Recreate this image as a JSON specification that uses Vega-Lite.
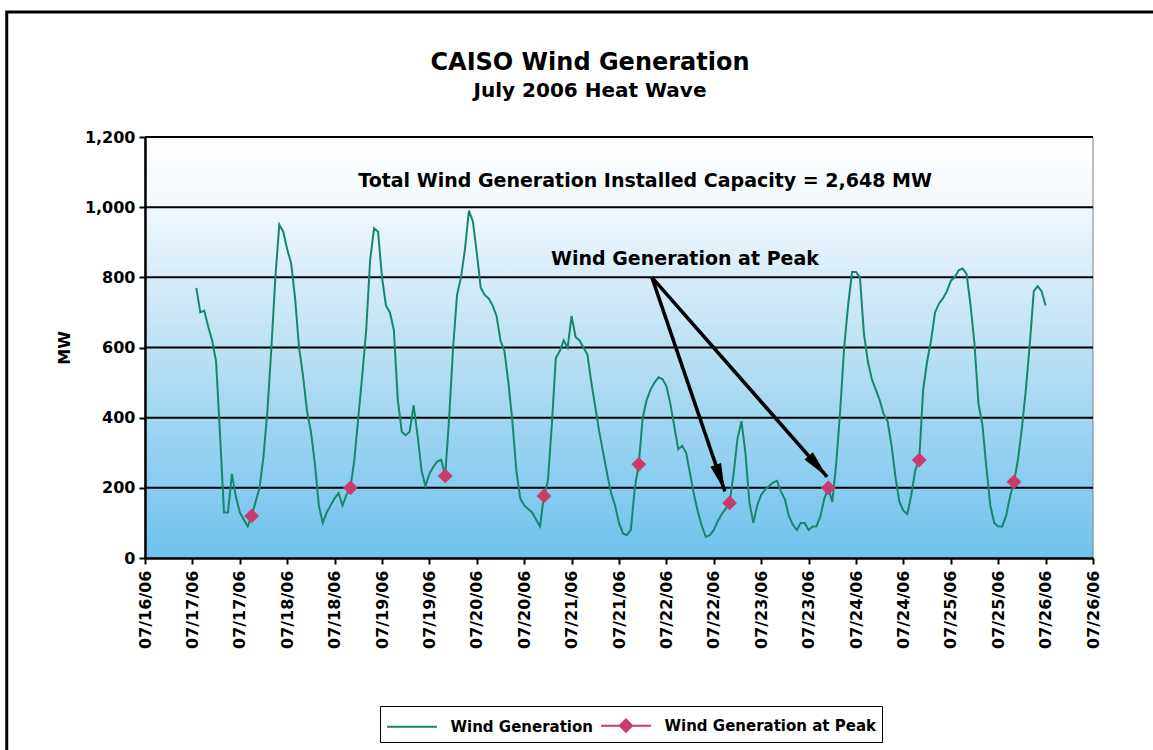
{
  "$schema": "https://vega.github.io/schema/vega-lite/v6.json",
  "width": 948,
  "height": 421,
  "autosize": {"type": "none"},
  "padding": {"left": 145, "top": 137, "right": 60, "bottom": 192},
  "background": "white",
  "title": {
    "text": "CAISO Wind Generation",
    "subtitle": "July 2006 Heat Wave",
    "anchor": "middle",
    "frame": "group",
    "dx": -29,
    "dy": 90,
    "offset": 0,
    "font": "DejaVu Sans",
    "fontSize": 24,
    "fontWeight": "bold",
    "color": "black",
    "subtitleFont": "DejaVu Sans",
    "subtitleFontSize": 20,
    "subtitleFontWeight": "bold",
    "subtitleColor": "black",
    "subtitlePadding": 6
  },
  "view": {"stroke": null},
  "datasets": {
    "plotbg": [
      {"t": "2006-07-16T12:00", "t2": "2006-07-26T12:00", "mw": 1200, "mw2": 0}
    ],
    "frame": [
      {"t": "2006-07-15T01:00", "t2": "2006-07-29T00:00", "mw": 1556, "mw2": -900}
    ],
    "gridlines": [
      {"mw": 200}, {"mw": 400}, {"mw": 600}, {"mw": 800}, {"mw": 1000}, {"mw": 1200}
    ],
    "series": [
      {"t": "2006-07-17T01:00", "mw": 770}, {"t": "2006-07-17T02:00", "mw": 700}, {"t": "2006-07-17T03:00", "mw": 705}, {"t": "2006-07-17T04:00", "mw": 660},
      {"t": "2006-07-17T05:00", "mw": 620}, {"t": "2006-07-17T06:00", "mw": 560}, {"t": "2006-07-17T07:00", "mw": 350}, {"t": "2006-07-17T08:00", "mw": 130},
      {"t": "2006-07-17T09:00", "mw": 130}, {"t": "2006-07-17T10:00", "mw": 240}, {"t": "2006-07-17T11:00", "mw": 175}, {"t": "2006-07-17T12:00", "mw": 130},
      {"t": "2006-07-17T13:00", "mw": 110}, {"t": "2006-07-17T14:00", "mw": 90}, {"t": "2006-07-17T15:00", "mw": 120}, {"t": "2006-07-17T16:00", "mw": 160},
      {"t": "2006-07-17T17:00", "mw": 200}, {"t": "2006-07-17T18:00", "mw": 290}, {"t": "2006-07-17T19:00", "mw": 420}, {"t": "2006-07-17T20:00", "mw": 600},
      {"t": "2006-07-17T21:00", "mw": 800}, {"t": "2006-07-17T22:00", "mw": 950}, {"t": "2006-07-17T23:00", "mw": 930}, {"t": "2006-07-18T00:00", "mw": 880},
      {"t": "2006-07-18T01:00", "mw": 840}, {"t": "2006-07-18T02:00", "mw": 740}, {"t": "2006-07-18T03:00", "mw": 600}, {"t": "2006-07-18T04:00", "mw": 520},
      {"t": "2006-07-18T05:00", "mw": 420}, {"t": "2006-07-18T06:00", "mw": 360}, {"t": "2006-07-18T07:00", "mw": 270}, {"t": "2006-07-18T08:00", "mw": 150},
      {"t": "2006-07-18T09:00", "mw": 100}, {"t": "2006-07-18T10:00", "mw": 130}, {"t": "2006-07-18T11:00", "mw": 150}, {"t": "2006-07-18T12:00", "mw": 170},
      {"t": "2006-07-18T13:00", "mw": 185}, {"t": "2006-07-18T14:00", "mw": 150}, {"t": "2006-07-18T15:00", "mw": 180}, {"t": "2006-07-18T16:00", "mw": 200},
      {"t": "2006-07-18T17:00", "mw": 280}, {"t": "2006-07-18T18:00", "mw": 400}, {"t": "2006-07-18T19:00", "mw": 520}, {"t": "2006-07-18T20:00", "mw": 650},
      {"t": "2006-07-18T21:00", "mw": 850}, {"t": "2006-07-18T22:00", "mw": 940}, {"t": "2006-07-18T23:00", "mw": 930}, {"t": "2006-07-19T00:00", "mw": 800},
      {"t": "2006-07-19T01:00", "mw": 720}, {"t": "2006-07-19T02:00", "mw": 700}, {"t": "2006-07-19T03:00", "mw": 650}, {"t": "2006-07-19T04:00", "mw": 450},
      {"t": "2006-07-19T05:00", "mw": 360}, {"t": "2006-07-19T06:00", "mw": 350}, {"t": "2006-07-19T07:00", "mw": 360}, {"t": "2006-07-19T08:00", "mw": 435},
      {"t": "2006-07-19T09:00", "mw": 350}, {"t": "2006-07-19T10:00", "mw": 250}, {"t": "2006-07-19T11:00", "mw": 205}, {"t": "2006-07-19T12:00", "mw": 240},
      {"t": "2006-07-19T13:00", "mw": 260}, {"t": "2006-07-19T14:00", "mw": 275}, {"t": "2006-07-19T15:00", "mw": 280}, {"t": "2006-07-19T16:00", "mw": 234},
      {"t": "2006-07-19T17:00", "mw": 400}, {"t": "2006-07-19T18:00", "mw": 600}, {"t": "2006-07-19T19:00", "mw": 750}, {"t": "2006-07-19T20:00", "mw": 800},
      {"t": "2006-07-19T21:00", "mw": 880}, {"t": "2006-07-19T22:00", "mw": 990}, {"t": "2006-07-19T23:00", "mw": 960}, {"t": "2006-07-20T00:00", "mw": 870},
      {"t": "2006-07-20T01:00", "mw": 770}, {"t": "2006-07-20T02:00", "mw": 750}, {"t": "2006-07-20T03:00", "mw": 740}, {"t": "2006-07-20T04:00", "mw": 720},
      {"t": "2006-07-20T05:00", "mw": 690}, {"t": "2006-07-20T06:00", "mw": 620}, {"t": "2006-07-20T07:00", "mw": 590}, {"t": "2006-07-20T08:00", "mw": 500},
      {"t": "2006-07-20T09:00", "mw": 390}, {"t": "2006-07-20T10:00", "mw": 250}, {"t": "2006-07-20T11:00", "mw": 170}, {"t": "2006-07-20T12:00", "mw": 150},
      {"t": "2006-07-20T13:00", "mw": 140}, {"t": "2006-07-20T14:00", "mw": 130}, {"t": "2006-07-20T15:00", "mw": 110}, {"t": "2006-07-20T16:00", "mw": 90},
      {"t": "2006-07-20T17:00", "mw": 177}, {"t": "2006-07-20T18:00", "mw": 220}, {"t": "2006-07-20T19:00", "mw": 380}, {"t": "2006-07-20T20:00", "mw": 570},
      {"t": "2006-07-20T21:00", "mw": 590}, {"t": "2006-07-20T22:00", "mw": 620}, {"t": "2006-07-20T23:00", "mw": 600}, {"t": "2006-07-21T00:00", "mw": 690},
      {"t": "2006-07-21T01:00", "mw": 630}, {"t": "2006-07-21T02:00", "mw": 620}, {"t": "2006-07-21T03:00", "mw": 600}, {"t": "2006-07-21T04:00", "mw": 580},
      {"t": "2006-07-21T05:00", "mw": 500}, {"t": "2006-07-21T06:00", "mw": 430}, {"t": "2006-07-21T07:00", "mw": 360}, {"t": "2006-07-21T08:00", "mw": 300},
      {"t": "2006-07-21T09:00", "mw": 240}, {"t": "2006-07-21T10:00", "mw": 185}, {"t": "2006-07-21T11:00", "mw": 150}, {"t": "2006-07-21T12:00", "mw": 100},
      {"t": "2006-07-21T13:00", "mw": 70}, {"t": "2006-07-21T14:00", "mw": 65}, {"t": "2006-07-21T15:00", "mw": 80}, {"t": "2006-07-21T16:00", "mw": 200},
      {"t": "2006-07-21T17:00", "mw": 267}, {"t": "2006-07-21T18:00", "mw": 400}, {"t": "2006-07-21T19:00", "mw": 450}, {"t": "2006-07-21T20:00", "mw": 480},
      {"t": "2006-07-21T21:00", "mw": 500}, {"t": "2006-07-21T22:00", "mw": 515}, {"t": "2006-07-21T23:00", "mw": 510}, {"t": "2006-07-22T00:00", "mw": 490},
      {"t": "2006-07-22T01:00", "mw": 440}, {"t": "2006-07-22T02:00", "mw": 375}, {"t": "2006-07-22T03:00", "mw": 310}, {"t": "2006-07-22T04:00", "mw": 320},
      {"t": "2006-07-22T05:00", "mw": 300}, {"t": "2006-07-22T06:00", "mw": 240}, {"t": "2006-07-22T07:00", "mw": 180}, {"t": "2006-07-22T08:00", "mw": 130},
      {"t": "2006-07-22T09:00", "mw": 90}, {"t": "2006-07-22T10:00", "mw": 60}, {"t": "2006-07-22T11:00", "mw": 65}, {"t": "2006-07-22T12:00", "mw": 80},
      {"t": "2006-07-22T13:00", "mw": 105}, {"t": "2006-07-22T14:00", "mw": 125}, {"t": "2006-07-22T15:00", "mw": 140}, {"t": "2006-07-22T16:00", "mw": 157},
      {"t": "2006-07-22T17:00", "mw": 240}, {"t": "2006-07-22T18:00", "mw": 340}, {"t": "2006-07-22T19:00", "mw": 390}, {"t": "2006-07-22T20:00", "mw": 300},
      {"t": "2006-07-22T21:00", "mw": 160}, {"t": "2006-07-22T22:00", "mw": 100}, {"t": "2006-07-22T23:00", "mw": 150}, {"t": "2006-07-23T00:00", "mw": 180},
      {"t": "2006-07-23T01:00", "mw": 195}, {"t": "2006-07-23T02:00", "mw": 205}, {"t": "2006-07-23T03:00", "mw": 215}, {"t": "2006-07-23T04:00", "mw": 220},
      {"t": "2006-07-23T05:00", "mw": 190}, {"t": "2006-07-23T06:00", "mw": 167}, {"t": "2006-07-23T07:00", "mw": 120}, {"t": "2006-07-23T08:00", "mw": 95},
      {"t": "2006-07-23T09:00", "mw": 80}, {"t": "2006-07-23T10:00", "mw": 100}, {"t": "2006-07-23T11:00", "mw": 100}, {"t": "2006-07-23T12:00", "mw": 80},
      {"t": "2006-07-23T13:00", "mw": 90}, {"t": "2006-07-23T14:00", "mw": 90}, {"t": "2006-07-23T15:00", "mw": 120}, {"t": "2006-07-23T16:00", "mw": 170},
      {"t": "2006-07-23T17:00", "mw": 200}, {"t": "2006-07-23T18:00", "mw": 160}, {"t": "2006-07-23T19:00", "mw": 270}, {"t": "2006-07-23T20:00", "mw": 420},
      {"t": "2006-07-23T21:00", "mw": 600}, {"t": "2006-07-23T22:00", "mw": 720}, {"t": "2006-07-23T23:00", "mw": 815}, {"t": "2006-07-24T00:00", "mw": 815},
      {"t": "2006-07-24T01:00", "mw": 800}, {"t": "2006-07-24T02:00", "mw": 640}, {"t": "2006-07-24T03:00", "mw": 560}, {"t": "2006-07-24T04:00", "mw": 510},
      {"t": "2006-07-24T05:00", "mw": 480}, {"t": "2006-07-24T06:00", "mw": 450}, {"t": "2006-07-24T07:00", "mw": 410}, {"t": "2006-07-24T08:00", "mw": 390},
      {"t": "2006-07-24T09:00", "mw": 320}, {"t": "2006-07-24T10:00", "mw": 230}, {"t": "2006-07-24T11:00", "mw": 160}, {"t": "2006-07-24T12:00", "mw": 135},
      {"t": "2006-07-24T13:00", "mw": 125}, {"t": "2006-07-24T14:00", "mw": 180}, {"t": "2006-07-24T15:00", "mw": 250}, {"t": "2006-07-24T16:00", "mw": 279},
      {"t": "2006-07-24T17:00", "mw": 480}, {"t": "2006-07-24T18:00", "mw": 560}, {"t": "2006-07-24T19:00", "mw": 620}, {"t": "2006-07-24T20:00", "mw": 700},
      {"t": "2006-07-24T21:00", "mw": 725}, {"t": "2006-07-24T22:00", "mw": 740}, {"t": "2006-07-24T23:00", "mw": 760}, {"t": "2006-07-25T00:00", "mw": 790},
      {"t": "2006-07-25T01:00", "mw": 800}, {"t": "2006-07-25T02:00", "mw": 820}, {"t": "2006-07-25T03:00", "mw": 825}, {"t": "2006-07-25T04:00", "mw": 810},
      {"t": "2006-07-25T05:00", "mw": 720}, {"t": "2006-07-25T06:00", "mw": 610}, {"t": "2006-07-25T07:00", "mw": 440}, {"t": "2006-07-25T08:00", "mw": 380},
      {"t": "2006-07-25T09:00", "mw": 260}, {"t": "2006-07-25T10:00", "mw": 150}, {"t": "2006-07-25T11:00", "mw": 100}, {"t": "2006-07-25T12:00", "mw": 90},
      {"t": "2006-07-25T13:00", "mw": 90}, {"t": "2006-07-25T14:00", "mw": 120}, {"t": "2006-07-25T15:00", "mw": 175}, {"t": "2006-07-25T16:00", "mw": 217},
      {"t": "2006-07-25T17:00", "mw": 280}, {"t": "2006-07-25T18:00", "mw": 370}, {"t": "2006-07-25T19:00", "mw": 480}, {"t": "2006-07-25T20:00", "mw": 610},
      {"t": "2006-07-25T21:00", "mw": 760}, {"t": "2006-07-25T22:00", "mw": 775}, {"t": "2006-07-25T23:00", "mw": 760}, {"t": "2006-07-26T00:00", "mw": 720}
    ],
    "peaks": [
      {"t": "2006-07-17T15:00", "mw": 120},
      {"t": "2006-07-18T16:00", "mw": 200},
      {"t": "2006-07-19T16:00", "mw": 234},
      {"t": "2006-07-20T17:00", "mw": 177},
      {"t": "2006-07-21T17:00", "mw": 267},
      {"t": "2006-07-22T16:00", "mw": 157},
      {"t": "2006-07-23T17:00", "mw": 200},
      {"t": "2006-07-24T16:00", "mw": 279},
      {"t": "2006-07-25T16:00", "mw": 217}
    ],
    "arrows": [
      {"id": 1, "t": "2006-07-21T20:20", "mw": 800, "t2": "2006-07-22T14:48", "mw2": 190},
      {"id": 2, "t": "2006-07-21T20:20", "mw": 800, "t2": "2006-07-23T16:42", "mw2": 231}
    ],
    "notes": [
      {"t": "2006-07-21T18:36", "mw": 1075, "label": "Total Wind Generation Installed Capacity = 2,648 MW"},
      {"t": "2006-07-22T04:42", "mw": 852, "label": "Wind Generation at Peak"}
    ]
  },
  "layer": [
    {
      "data": {"name": "plotbg"},
      "mark": {
        "type": "rect",
        "stroke": "#808080",
        "strokeWidth": 1,
        "fill": {
          "gradient": "linear",
          "x1": 0, "y1": 0, "x2": 0, "y2": 1,
          "stops": [
            {"offset": 0, "color": "#ffffff"},
            {"offset": 0.15, "color": "#f3f9fd"},
            {"offset": 0.35, "color": "#d4ebf8"},
            {"offset": 0.65, "color": "#a4d7f2"},
            {"offset": 1, "color": "#6fc2ec"}
          ]
        }
      },
      "encoding": {
        "x": {
          "field": "t",
          "type": "temporal",
          "scale": {
            "domain": [
              {"year": 2006, "month": 7, "date": 16, "hours": 12},
              {"year": 2006, "month": 7, "date": 26, "hours": 12}
            ],
            "nice": false
          },
          "axis": {
            "title": null,
            "format": "%m/%d/%y",
            "values": [
              {"year": 2006, "month": 7, "date": 16, "hours": 12},
              {"year": 2006, "month": 7, "date": 17, "hours": 0},
              {"year": 2006, "month": 7, "date": 17, "hours": 12},
              {"year": 2006, "month": 7, "date": 18, "hours": 0},
              {"year": 2006, "month": 7, "date": 18, "hours": 12},
              {"year": 2006, "month": 7, "date": 19, "hours": 0},
              {"year": 2006, "month": 7, "date": 19, "hours": 12},
              {"year": 2006, "month": 7, "date": 20, "hours": 0},
              {"year": 2006, "month": 7, "date": 20, "hours": 12},
              {"year": 2006, "month": 7, "date": 21, "hours": 0},
              {"year": 2006, "month": 7, "date": 21, "hours": 12},
              {"year": 2006, "month": 7, "date": 22, "hours": 0},
              {"year": 2006, "month": 7, "date": 22, "hours": 12},
              {"year": 2006, "month": 7, "date": 23, "hours": 0},
              {"year": 2006, "month": 7, "date": 23, "hours": 12},
              {"year": 2006, "month": 7, "date": 24, "hours": 0},
              {"year": 2006, "month": 7, "date": 24, "hours": 12},
              {"year": 2006, "month": 7, "date": 25, "hours": 0},
              {"year": 2006, "month": 7, "date": 25, "hours": 12},
              {"year": 2006, "month": 7, "date": 26, "hours": 0},
              {"year": 2006, "month": 7, "date": 26, "hours": 12}
            ],
            "labelAngle": -90,
            "grid": false,
            "zindex": 1,
            "domainColor": "black",
            "domainWidth": 2.5,
            "tickColor": "black",
            "tickWidth": 2,
            "tickSize": 6,
            "labelFont": "DejaVu Sans",
            "labelFontSize": 16,
            "labelFontWeight": "bold",
            "labelColor": "black",
            "labelPadding": 6,
            "labelOverlap": false,
            "labelFlush": false
          }
        },
        "x2": {"field": "t2"},
        "y": {
          "field": "mw",
          "type": "quantitative",
          "scale": {"domain": [0, 1200], "nice": false},
          "axis": {
            "title": "MW",
            "values": [0, 200, 400, 600, 800, 1000, 1200],
            "format": ",.0f",
            "grid": false,
            "zindex": 1,
            "domainColor": "black",
            "domainWidth": 2.5,
            "tickColor": "black",
            "tickWidth": 2,
            "tickSize": 6,
            "labelFont": "DejaVu Sans",
            "labelFontSize": 16,
            "labelFontWeight": "bold",
            "labelColor": "black",
            "labelPadding": 4,
            "titleFont": "DejaVu Sans",
            "titleFontSize": 16,
            "titleFontWeight": "bold",
            "titleColor": "black",
            "titlePadding": 12
          }
        },
        "y2": {"field": "mw2"}
      }
    },
    {
      "data": {"name": "gridlines"},
      "mark": {"type": "rule", "color": "black", "strokeWidth": 2},
      "encoding": {
        "y": {"field": "mw", "type": "quantitative", "scale": {"domain": [0, 1200], "nice": false}}
      }
    },
    {
      "data": {"name": "frame"},
      "mark": {"type": "rect", "fillOpacity": 0, "stroke": "black", "strokeWidth": 3},
      "encoding": {
        "x": {"field": "t", "type": "temporal"},
        "x2": {"field": "t2"},
        "y": {"field": "mw", "type": "quantitative"},
        "y2": {"field": "mw2"}
      }
    },
    {
      "data": {"name": "series"},
      "mark": {"type": "line", "strokeWidth": 2},
      "encoding": {
        "x": {"field": "t", "type": "temporal"},
        "y": {"field": "mw", "type": "quantitative"},
        "color": {
          "datum": "Wind Generation",
          "scale": {
            "domain": ["Wind Generation", "Wind Generation at Peak"],
            "range": ["#17876b", "#c93b6e"]
          },
          "legend": {
            "orient": "none",
            "legendX": 235,
            "legendY": 569,
            "direction": "horizontal",
            "title": null,
            "labelFont": "DejaVu Sans",
            "labelFontSize": 15,
            "labelFontWeight": "bold",
            "labelColor": "black",
            "labelLimit": 400,
            "labelOffset": 25,
            "symbolType": "M-2,0L2,0",
            "symbolSize": 625,
            "symbolOffset": 12.5,
            "symbolStrokeWidth": 2,
            "strokeColor": "black",
            "padding": 6,
            "columnPadding": 4,
            "encode": {
              "symbols": {
                "update": {
                  "shape": {"signal": "datum.value === 'Wind Generation' ? 'M-2,0L2,0' : 'M-2,0L-0.5,0L0,-0.5L0.5,0L2,0L0.5,0L0,0.5L-0.5,0Z'"},
                  "fill": {"scale": "color", "field": "value"},
                  "stroke": {"scale": "color", "field": "value"}
                }
              }
            }
          }
        }
      }
    },
    {
      "data": {"name": "peaks"},
      "mark": {"type": "point", "shape": "diamond", "filled": true, "size": 220, "color": "#c93b6e", "opacity": 1},
      "encoding": {
        "x": {"field": "t", "type": "temporal"},
        "y": {"field": "mw", "type": "quantitative"}
      }
    },
    {
      "data": {"name": "arrows"},
      "mark": {"type": "rule", "color": "black", "strokeWidth": 3.5},
      "encoding": {
        "x": {"field": "t", "type": "temporal"},
        "y": {"field": "mw", "type": "quantitative"},
        "x2": {"field": "t2"},
        "y2": {"field": "mw2"}
      }
    },
    {
      "data": {"name": "arrows"},
      "transform": [{"filter": "datum.id == 1"}],
      "mark": {"type": "point", "shape": "M0,0L-0.2,1L0.2,1Z", "filled": true, "color": "black", "size": 3136, "angle": 161, "opacity": 1},
      "encoding": {
        "x": {"field": "t2", "type": "temporal"},
        "y": {"field": "mw2", "type": "quantitative"}
      }
    },
    {
      "data": {"name": "arrows"},
      "transform": [{"filter": "datum.id == 2"}],
      "mark": {"type": "point", "shape": "M0,0L-0.2,1L0.2,1Z", "filled": true, "color": "black", "size": 3136, "angle": 138.7, "opacity": 1},
      "encoding": {
        "x": {"field": "t2", "type": "temporal"},
        "y": {"field": "mw2", "type": "quantitative"}
      }
    },
    {
      "data": {"name": "notes"},
      "mark": {"type": "text", "font": "DejaVu Sans", "fontSize": 19, "fontWeight": "bold", "color": "black", "align": "center", "baseline": "middle"},
      "encoding": {
        "x": {"field": "t", "type": "temporal"},
        "y": {"field": "mw", "type": "quantitative"},
        "text": {"field": "label"}
      }
    }
  ]
}
